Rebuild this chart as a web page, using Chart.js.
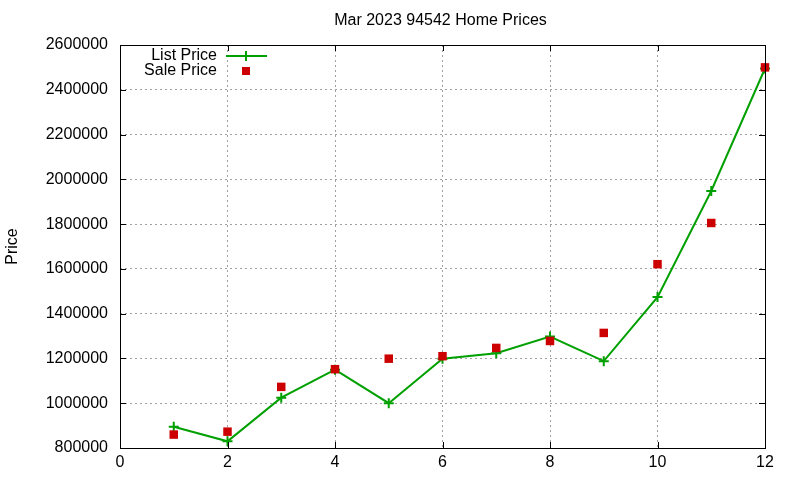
<!DOCTYPE html>
<html>
<head>
<meta charset="utf-8">
<script src="https://cdn.jsdelivr.net/npm/chart.js@4/dist/chart.umd.min.js"></script>
<style>
  html, body { margin: 0; padding: 0; background: #fff; }
  #wrap { width: 800px; height: 480px; }
</style>
</head>
<body>
<div id="wrap"><canvas id="chart" width="800" height="480"></canvas></div>
<script>
// values
const chartTitle = 'Mar 2023 94542 Home Prices';
const homeIndex = [1, 2, 3, 4, 5, 6, 7, 8, 9, 10, 11, 12];
const listPrices = [895000, 830000, 1025000, 1150000, 1000000, 1199000, 1223000, 1298000, 1188000, 1474000, 1948000, 2495000];
const salePrices = [860000, 873000, 1073000, 1152000, 1199000, 1210000, 1247000, 1278000, 1314000, 1621000, 1805000, 2500000];

const green = '#00a000';
const red = '#cc0000';
const font = { family: 'Liberation Sans, Arial, sans-serif', size: 16 };

// gnuplot style box with inward tics on all four sides, title over the plot, key in the top left
const boxPlugin = {
  id: 'gnuplotBox',
  afterDraw(chart) {
    const ctx = chart.ctx;
    const a = chart.chartArea;
    const xs = chart.scales.x, ys = chart.scales.y;
    ctx.save();
    ctx.strokeStyle = '#000';
    ctx.lineWidth = 1;
    ctx.beginPath();
    xs.ticks.forEach(t => {
      const px = Math.round(xs.getPixelForValue(t.value)) + 0.5;
      ctx.moveTo(px, a.bottom); ctx.lineTo(px, a.bottom - 6);
      ctx.moveTo(px, a.top); ctx.lineTo(px, a.top + 6);
    });
    ys.ticks.forEach(t => {
      const py = Math.round(ys.getPixelForValue(t.value)) + 0.5;
      ctx.moveTo(a.left, py); ctx.lineTo(a.left + 6, py);
      ctx.moveTo(a.right, py); ctx.lineTo(a.right - 6, py);
    });
    ctx.stroke();
    ctx.strokeRect(Math.round(a.left) + 0.5, Math.round(a.top) + 0.5,
      Math.round(a.right - a.left), Math.round(a.bottom - a.top));

    ctx.font = font.size + 'px ' + font.family;
    ctx.fillStyle = '#000';
    ctx.textBaseline = 'middle';
    ctx.textAlign = 'center';
    ctx.fillText(chartTitle, (a.left + a.right) / 2 - 2, 21);

    // key
    ctx.textAlign = 'right';
    const ds = chart.data.datasets;
    const textX = a.left + 97, sampleX = a.left + 126;
    ctx.fillText(ds[0].label, textX, a.top + 11);
    ctx.fillText(ds[1].label, textX, a.top + 26);
    ctx.strokeStyle = green;
    ctx.lineWidth = 2;
    ctx.beginPath();
    ctx.moveTo(sampleX - 20, a.top + 11); ctx.lineTo(sampleX + 21, a.top + 11);
    ctx.moveTo(sampleX, a.top + 6); ctx.lineTo(sampleX, a.top + 16);
    ctx.stroke();
    ctx.fillStyle = red;
    ctx.fillRect(sampleX - 4, a.top + 22, 8, 8);
    ctx.restore();
  }
};

new Chart(document.getElementById('chart'), {
  type: 'scatter',
  data: {
    datasets: [
      {
        label: 'List Price',
        data: homeIndex.map((x, i) => ({ x: x, y: listPrices[i] })),
        order: 2,
        showLine: true,
        clip: false,
        borderColor: green,
        backgroundColor: green,
        borderWidth: 2,
        pointStyle: 'cross',
        pointRadius: 5,
        pointBorderWidth: 2,
        tension: 0
      },
      {
        label: 'Sale Price',
        data: homeIndex.map((x, i) => ({ x: x, y: salePrices[i] })),
        order: 1,
        showLine: false,
        clip: false,
        borderColor: red,
        backgroundColor: red,
        pointStyle: 'rect',
        pointRadius: 6,
        pointBorderWidth: 0
      }
    ]
  },
  options: {
    responsive: false,
    animation: false,
    layout: { padding: { left: 0, right: 35, top: 45, bottom: 0 } },
    plugins: {
      legend: { display: false },
      tooltip: { enabled: false },
      title: { display: false }
    },
    scales: {
      x: {
        type: 'linear',
        min: 0,
        max: 12,
        ticks: { stepSize: 2, color: '#000', font: font, padding: 5, maxRotation: 0 },
        grid: { color: '#a0a0a0', lineWidth: 1, drawTicks: false },
        border: { display: false, dash: [2, 3] },
        afterFit(s) { s.height = 32; }
      },
      y: {
        min: 800000,
        max: 2600000,
        ticks: { stepSize: 200000, color: '#000', font: font, padding: 12,
          callback: v => String(v) },
        grid: { color: '#a0a0a0', lineWidth: 1, drawTicks: false },
        border: { display: false, dash: [2, 3] },
        title: { display: true, text: 'Price', color: '#000', font: font, padding: { top: 3, bottom: 0 } },
        afterFit(s) { s.width = 120; }
      }
    }
  },
  plugins: [boxPlugin]
});
</script>
</body>
</html>
